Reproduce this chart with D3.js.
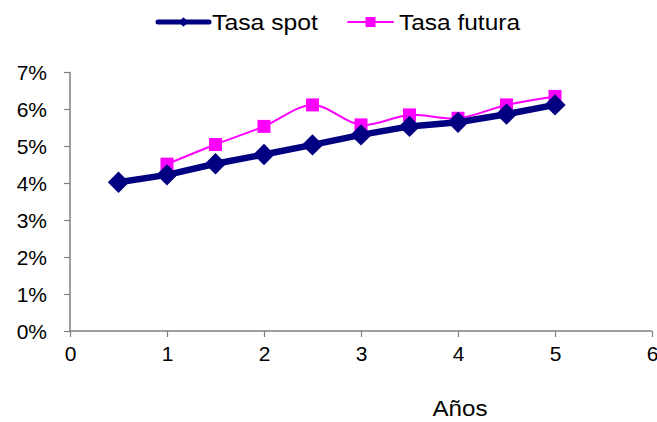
<!DOCTYPE html>
<html>
<head>
<meta charset="utf-8">
<script src="https://cdn.jsdelivr.net/npm/d3@7"></script>
<style>
  body { margin: 0; background: #fff; }
  text { font-family: "Liberation Sans", Arial, sans-serif; fill: #000; }
</style>
</head>
<body>
<svg id="chart" width="657" height="422"></svg>
<script>
(function() {
    'use strict';
    // data
    var years = [0.5, 1, 1.5, 2, 2.5, 3, 3.5, 4, 4.5, 5];
    var spot = [0.0402, 0.0422, 0.0452, 0.0477, 0.0503, 0.0530, 0.0553, 0.0564, 0.0586, 0.0611];
    var futura = [null, 0.0451, 0.0504, 0.0553, 0.0611, 0.0557, 0.0584, 0.0575, 0.0611, 0.0634];
    var xTicks = [0, 1, 2, 3, 4, 5, 6];
    var yTicks = [0, 0.01, 0.02, 0.03, 0.04, 0.05, 0.06, 0.07];
    var seriesNames = ['Tasa spot', 'Tasa futura'];

    var NAVY = '#000080', MAGENTA = '#ff00ff', AXIS = '#7f7f7f';
    var svg = d3.select('#chart');

    var x = d3.scaleLinear().domain([0, 6]).range([70, 652]);
    var y = d3.scaleLinear().domain([0, 0.07]).range([331, 72]);

    // axes
    var xAxis = svg.append('g').attr('transform', 'translate(0,' + y(0) + ')')
        .call(d3.axisBottom(x).tickValues(xTicks).tickSize(6).tickPadding(9)
            .tickFormat(d3.format('d')));
    var yAxis = svg.append('g').attr('transform', 'translate(' + x(0) + ',0)')
        .call(d3.axisLeft(y).tickValues(yTicks).tickSize(6).tickPadding(17)
            .tickFormat(d3.format('.0%')));
    [xAxis, yAxis].forEach(function(ax) {
        ax.select('.domain').attr('stroke', AXIS).attr('stroke-width', 1.5);
        ax.selectAll('.tick line').attr('stroke', AXIS).attr('stroke-width', 1.2);
        ax.selectAll('.tick text').attr('font-size', 21)
            .attr('font-family', '"Liberation Sans", Arial, sans-serif').attr('fill', '#000');
    });
    xAxis.select('.domain').attr('d', 'M' + x(0) + ',0H' + x(6));
    yAxis.select('.domain').attr('d', 'M0,' + y(0.07) + 'V' + y(0));
    yAxis.selectAll('.tick text').attr('dy', '0.36em');

    svg.append('text').attr('x', 460).attr('y', 416).attr('text-anchor', 'middle')
        .attr('font-size', 22).attr('textLength', 55).attr('lengthAdjust', 'spacingAndGlyphs')
        .text('Años');

    // lines
    var pts = function(vals) {
        return years.map(function(d, i) { return {x: d, y: vals[i]}; })
            .filter(function(d) { return d.y !== null; });
    };
    var line = d3.line().x(function(d) { return x(d.x); }).y(function(d) { return y(d.y); });

    var futuraPts = pts(futura), spotPts = pts(spot);

    svg.append('path').datum(futuraPts)
        .attr('d', line.curve(d3.curveCatmullRom.alpha(0.5)))
        .attr('fill', 'none').attr('stroke', MAGENTA).attr('stroke-width', 2);
    svg.selectAll('.fut').data(futuraPts).enter().append('rect')
        .attr('class', 'fut')
        .attr('x', function(d) { return x(d.x) - 6.5; })
        .attr('y', function(d) { return y(d.y) - 6.5; })
        .attr('width', 13).attr('height', 13).attr('fill', MAGENTA);

    svg.append('path').datum(spotPts)
        .attr('d', line.curve(d3.curveLinear))
        .attr('fill', 'none').attr('stroke', NAVY).attr('stroke-width', 6.5)
        .attr('stroke-linejoin', 'round');
    var diamond = d3.symbol().type(d3.symbolDiamond2).size(290);
    svg.selectAll('.spot').data(spotPts).enter().append('path')
        .attr('class', 'spot')
        .attr('transform', function(d) { return 'translate(' + x(d.x) + ',' + y(d.y) + ')'; })
        .attr('d', diamond).attr('fill', NAVY);

    // legend
    var legend = svg.append('g');
    var leg = [
        {name: seriesNames[0], x1: 158, x2: 209, tx: 212, len: 106, color: NAVY, w: 5, sym: 'd'},
        {name: seriesNames[1], x1: 348, x2: 393, tx: 399, len: 121, color: MAGENTA, w: 2, sym: 's'}
    ];
    leg.forEach(function(l) {
        legend.append('line').attr('x1', l.x1).attr('x2', l.x2).attr('y1', 22).attr('y2', 22)
            .attr('stroke', l.color).attr('stroke-width', l.w).attr('stroke-linecap', 'round');
        var cx = (l.x1 + l.x2) / 2;
        if (l.sym === 'd') {
            legend.append('path').attr('transform', 'translate(' + cx + ',22)')
                .attr('d', d3.symbol().type(d3.symbolDiamond2).size(60)).attr('fill', l.color);
        } else {
            legend.append('rect').attr('x', cx - 5).attr('y', 17).attr('width', 10).attr('height', 10)
                .attr('fill', l.color);
        }
        legend.append('text').attr('x', l.tx).attr('y', 30).attr('font-size', 22)
            .attr('textLength', l.len).attr('lengthAdjust', 'spacingAndGlyphs').text(l.name);
    });
}());
</script>
</body>
</html>
